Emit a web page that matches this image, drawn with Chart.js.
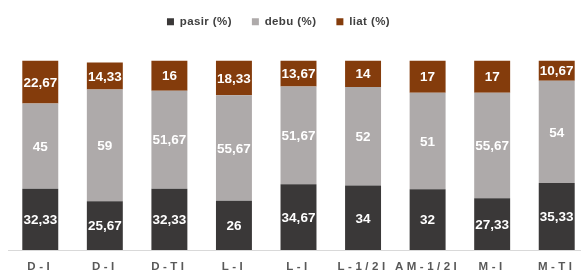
<!DOCTYPE html>
<html>
<head>
<meta charset="utf-8">
<script src="https://cdn.jsdelivr.net/npm/chart.js@4"></script>
<style>
  html, body { margin: 0; padding: 0; background: #fff; overflow: hidden; }
  #wrap { position: relative; width: 590px; height: 274px; }
</style>
</head>
<body>
<div id="wrap"><canvas id="soilChart"></canvas></div>
<script>
const categories = ['D-I', 'D-I', 'D-TI', 'L-I', 'L-I', 'L-1/2I', 'AM-1/2I', 'M-I', 'M-TI']
const pasir = [32.33, 25.67, 32.33, 26, 34.67, 34, 32, 27.33, 35.33]
const debu = [45, 59, 51.67, 55.67, 51.67, 52, 51, 55.67, 54]
const liat = [22.67, 14.33, 16, 18.33, 13.67, 14, 17, 17, 10.67]

const seriesNames = ['pasir (%)', 'debu (%)', 'liat (%)']
const seriesColors = ['#3a3838', '#aeaaaa', '#843c0c']

// value labels inside each stacked segment, decimal comma
const segmentLabels = {
  id: 'segmentLabels',
  afterDatasetsDraw(chart) {
    const ctx = chart.ctx
    ctx.save()
    ctx.letterSpacing = '0px'
    ctx.font = 'bold 13.5px "Liberation Sans", Arial, sans-serif'
    ctx.fillStyle = '#ffffff'
    ctx.textAlign = 'center'
    ctx.textBaseline = 'middle'
    chart.data.datasets.forEach((ds, i) => {
      const meta = chart.getDatasetMeta(i)
      meta.data.forEach((bar, j) => {
        const text = String(ds.data[j]).replace('.', ',')
        ctx.fillText(text, bar.x, (bar.y + bar.base) / 2 + 1)
      })
    })
    ctx.restore()
  }
}

// spacing tweaks: legend sits higher with a gap below, ticks are letter-spaced
const layoutTweaks = {
  id: 'layoutTweaks',
  afterInit(chart) {
    const legend = chart.legend
    const origFit = legend.fit
    legend.fit = function() {
      origFit.call(this)
      this.height += 15
    }
    const origDraw = legend.draw
    legend.draw = function() {
      this.ctx.save()
      this.ctx.letterSpacing = '0.4px'
      origDraw.call(this)
      this.ctx.restore()
    }
  },
  afterLayout(chart) {
    const legend = chart.legend
    legend.left -= 25
    legend.right -= 25
    legend.top -= 8
    legend.bottom -= 8
  },
  beforeDraw(chart) {
    chart.ctx.letterSpacing = '3.5px'
  }
}

const datasets = [pasir, debu, liat].map((values, i) => ({
  label: seriesNames[i],
  data: values,
  backgroundColor: seriesColors[i],
  borderWidth: 0,
  barPercentage: 0.557,
  categoryPercentage: 1
}))

new Chart(document.getElementById('soilChart'), {
  type: 'bar',
  data: { labels: categories, datasets },
  options: {
    responsive: true,
    maintainAspectRatio: false,
    animation: false,
    layout: { padding: { left: 8, right: 1, top: 4, bottom: 0 } },
    scales: {
      x: {
        stacked: true,
        grid: { display: false },
        border: { display: true, color: '#d9d9d9', width: 1 },
        ticks: {
          color: '#595959',
          padding: 2,
          font: { family: '"Liberation Sans", Arial, sans-serif', size: 11.5, weight: 'bold' }
        },
        afterFit(scale) {
          scale.height = 24
        }
      },
      y: {
        stacked: true,
        display: false,
        min: 0,
        max: 100
      }
    },
    plugins: {
      legend: {
        position: 'top',
        labels: {
          boxWidth: 7,
          boxHeight: 7,
          padding: 20,
          color: '#404040',
          font: { family: '"Liberation Sans", Arial, sans-serif', size: 11.5, weight: 'bold' }
        }
      },
      tooltip: { enabled: false }
    }
  },
  plugins: [segmentLabels, layoutTweaks]
})
</script>
</body>
</html>
